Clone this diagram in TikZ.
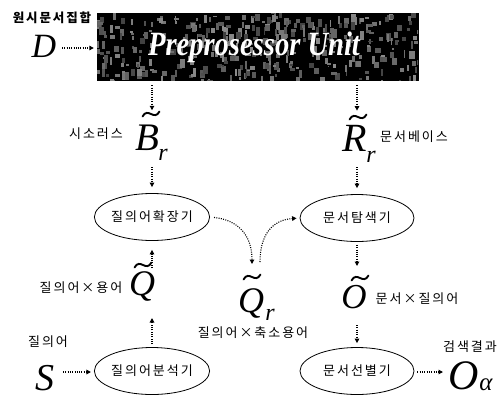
\documentclass[tikz,border=0pt]{standalone}
\usepackage{fontspec}
\setmainfont{Liberation Serif}
\newfontfamily\kr[LetterSpace=15]{Noto Sans CJK KR}
\usetikzlibrary{shapes.geometric,arrows.meta}
\tikzset{
  lt/.style={font=\fontsize{#1}{#1}\selectfont\itshape, inner sep=0pt, anchor=base},
  lt/.default=38,
  lab/.style={font=\kr\fontsize{13}{13}\selectfont, inner sep=0pt},
  ell/.style={ellipse, draw, line width=0.8pt, minimum width=114pt, minimum height=47pt, inner sep=0pt, font=\kr\fontsize{13}{13}\selectfont},
  arr/.style={line width=1.1pt, dash pattern=on 1pt off 1.3pt, -{Triangle[length=4.5pt,width=4.5pt]}},
  tld/.pic={\draw[line width=1.9pt, line cap=round] (-8.5,2.5) .. controls (-3,-7.5) and (3,7.5) .. (8.5,-2.5);}
}
\begin{document}
\begin{tikzpicture}[x=1pt,y=-1pt]
\useasboundingbox (0,0) rectangle (500,397);
% preprocessor box
\node[draw=black, fill=black, minimum width=321pt, minimum height=67pt, inner sep=0pt] (box) at (257.5,46.5) {};
\begin{scope}
\clip (97,13) rectangle (418,80);
\pgfmathsetseed{7}
\foreach \i in {1,...,380}{
  \pgfmathsetmacro{\rx}{95+325*rnd}
  \pgfmathsetmacro{\ry}{11+71*rnd}
  \pgfmathsetmacro{\rw}{1.5+4*rnd}
  \pgfmathsetmacro{\rh}{1.5+7*rnd}
  \pgfmathsetmacro{\rg}{45+30*rnd}
  \fill[black!\rg!white] (\rx,\ry) rectangle ++(\rw,\rh);
}
\end{scope}
\node[font=\fontsize{34}{34}\selectfont\bfseries\itshape, text=white, inner sep=0pt, anchor=base] (pt) at (254,55) {\scalebox{0.84}[1]{Preprosessor Unit}};
% labels
\node[lab, font=\kr\bfseries\fontsize{12.5}{12.5}\selectfont] (l1) at (52,18) {원시문서집합};
\node[lab] (l2) at (96,134) {시소러스};
\node[lab] (l3) at (414,137) {문서베이스};
\node[lab] (l4) at (81,288) {질의어×용어};
\node[lab] (l5) at (253,333) {질의어×축소용어};
\node[lab] (l6) at (417,299) {문서×질의어};
\node[lab] (l7) at (48,342) {질의어};
\node[lab] (l8) at (470,347) {검색결과};
% letters
\node[lt=34] (D) at (44,57) {D};
\node[lt=39] (B) at (147,150) {B};
\node[lt=24] (Br) at (163,160) {r};
\pic at (151,114) {tld};
\node[lt=40] (R) at (355,151) {R};
\node[lt=24] (Rr) at (371,162) {r};
\pic at (358,117) {tld};
\node[lt=36] (Q) at (142,295) {Q};
\pic at (143,265) {tld};
\node[lt=36] (Qr) at (251,312) {Q};
\node[lt=24] (Qrr) at (270,320) {r};
\pic at (252,277) {tld};
\node[lt=35] (O) at (354,308) {O};
\pic at (360,278) {tld};
\node[lt=38] (S) at (45,390) {S};
\node[lt=42] (Oa) at (464,389) {O};
\node[lt=25] (al) at (486,390) {α};
% ellipses
\node[ell] (qe) at (152,217) {질의어확장기};
\node[ell] (ds) at (357,218) {문서탐색기};
\node[ell] (qa) at (152,371) {질의어분석기};
\node[ell] (dsel) at (357,371) {문서선별기};
% coordinates
\coordinate (qrin) at (252,264);
\coordinate (qrout) at (260,262);
\coordinate (dout) at (62,48);
\coordinate (sout) at (63,372);
\coordinate (oain) at (443,372);
% arrows
\draw[arr, shorten >=3pt] (dout) -- (box.west |- dout);
\draw[arr, shorten <=5pt, shorten >=14pt] (box.south -| qe.center) -- (qe.center |- B.north);
\draw[arr, shorten <=5pt, shorten >=14pt] (box.south -| ds.center) -- (ds.center |- R.north);
\draw[arr, shorten <=17pt, shorten >=6pt] (qe.center |- B.base) -- (qe.north);
\draw[arr, shorten <=16pt, shorten >=6pt] (ds.center |- R.base) -- (ds.north);
\draw[arr, shorten <=4pt] (qe.east) .. controls (238,220) and (252,235) .. (qrin);
\draw[arr, shorten >=3pt] (qrout) .. controls (260,235) and (272,220) .. (ds.west);
\draw[arr, shorten <=27pt, shorten >=9pt] (qe.center |- Q.base) -- (qe.south);
\draw[arr, shorten <=3pt, shorten >=23pt] (qa.north) -- (qa.center |- Q.base);
\draw[arr, shorten <=3pt, shorten >=42pt] (ds.south) -- (ds.center |- O.base);
\draw[arr, shorten <=17pt, shorten >=4pt] (dsel.center |- O.base) -- (dsel.north);
\draw[arr, shorten >=3pt] (sout) -- (qa.west |- sout);
\draw[arr, shorten <=3pt] (dsel.east |- oain) -- (oain);
\end{tikzpicture}
\end{document}
